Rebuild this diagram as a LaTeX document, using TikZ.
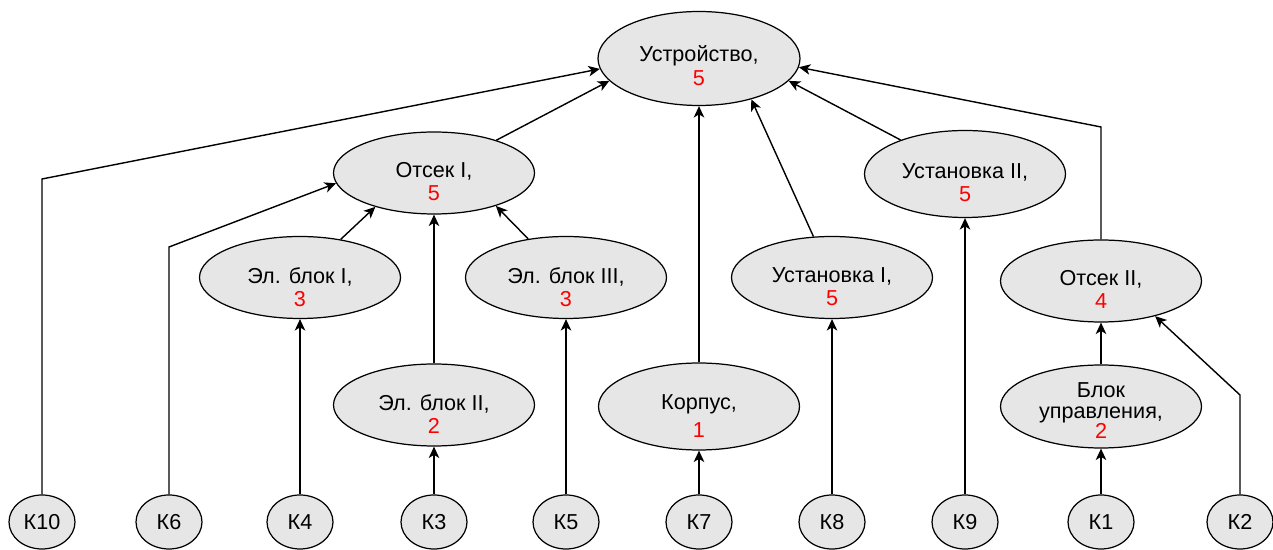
\documentclass[tikz,border=0pt]{standalone}
\usepackage{fontspec}
\setmainfont{Liberation Sans}
\usepackage{xcolor}
\usetikzlibrary{positioning, arrows.meta, shapes.geometric}
\definecolor{nodegray}{RGB}{230,230,230}
\newcommand{\nodetext}[2][4.8pt]{\raisebox{-#1}[\height][\depth]{\shortstack{#2}}}

\begin{document}
\begin{tikzpicture}[
  oval/.style={draw, line width=0.7pt, ellipse, inner sep=0pt, minimum width=4.02cm, minimum height=1.64cm, fill=nodegray, font=\fontsize{12.3}{14}\selectfont},
  kbox/.style={oval, minimum width=1.32cm, minimum height=1.08cm},
  arr/.style={-{Stealth[length=6.5pt, width=6pt, inset=1.8pt]}, thick}]
  \useasboundingbox (0,0) rectangle (25.46,11);
  % top level
  \node[oval, minimum width=4.04cm, minimum height=1.88cm] (dev) at (13.98,9.83) {\nodetext[4pt]{Устройство,\\\textcolor{red}{5}}};
  % second level
  \node[oval] (compI) at (8.68,7.54) {\nodetext{Отсек I,\\\textcolor{red}{5}}};
  \node[oval, minimum height=1.74cm] (instII) at (19.3,7.52) {\nodetext{Установка II,\\\textcolor{red}{5}}};
  % third level
  \node[oval] (ebI) at (6.0,5.45) {\nodetext[5.3pt]{Эл. блок I,\\\textcolor{red}{3}}};
  \node[oval] (ebIII) at (11.32,5.45) {\nodetext[5.3pt]{Эл. блок III,\\\textcolor{red}{3}}};
  \node[oval] (instI) at (16.64,5.45) {\nodetext[5.3pt]{Установка I,\\\textcolor{red}{5}}};
  \node[oval] (compII) at (22.02,5.38) {\nodetext{Отсек II,\\\textcolor{red}{4}}};
  % fourth level
  \node[oval] (ebII) at (8.68,2.9) {\nodetext[5.3pt]{Эл. блок II,\\\textcolor{red}{2}}};
  \node[oval, minimum height=1.74cm] (body) at (13.98,2.87) {\nodetext[5.3pt]{Корпус,\\[2pt]\textcolor{red}{1}}};
  \node[oval, minimum height=1.66cm] (ctrl) at (22.02,2.87) {\nodetext[2.3pt]{Блок\\[2.2pt]управления,\\[-2.4pt]\textcolor{red}{2}}};
  % components
  \node[kbox] (k10) at (0.84,0.56) {К10};
  \node[kbox] (k6) at (3.38,0.56) {К6};
  \node[kbox] (k4) at (6.0,0.56) {К4};
  \node[kbox] (k3) at (8.68,0.56) {К3};
  \node[kbox] (k5) at (11.32,0.56) {К5};
  \node[kbox] (k7) at (13.98,0.56) {К7};
  \node[kbox] (k8) at (16.64,0.56) {К8};
  \node[kbox] (k9) at (19.3,0.56) {К9};
  \node[kbox] (k1) at (22.02,0.56) {К1};
  \node[kbox] (k2) at (24.8,0.56) {К2};

  \draw[arr] (k10) -- ++(0,6.86) -- (dev.186);
  \draw[arr] (compI) -- (dev.194);
  \draw[arr] (body) -- (dev);
  \draw[arr] (instI) -- (dev.322);
  \draw[arr] (instII) -- (dev.346);
  \draw[arr] (compII) -- ++(0,3.08) -- (dev.355);

  \draw[arr] (k6) -- ++(0,5.5) -- (compI.186);
  \draw[arr] (ebI) -- (compI.210);
  \draw[arr] (ebII) -- (compI);
  \draw[arr] (ebIII) -- (compI.332);

  \draw[arr] (k4) -- (ebI);
  \draw[arr] (k3) -- (ebII);
  \draw[arr] (k5) -- (ebIII);
  \draw[arr] (k7) -- (body);
  \draw[arr] (k8) -- (instI);
  \draw[arr] (k9) -- (instII);
  \draw[arr] (k1) -- (ctrl);
  \draw[arr] (ctrl) -- (compII);
  \draw[arr] (k2) -- ++(0,2.54) -- (compII.327);
\end{tikzpicture}
\end{document}
